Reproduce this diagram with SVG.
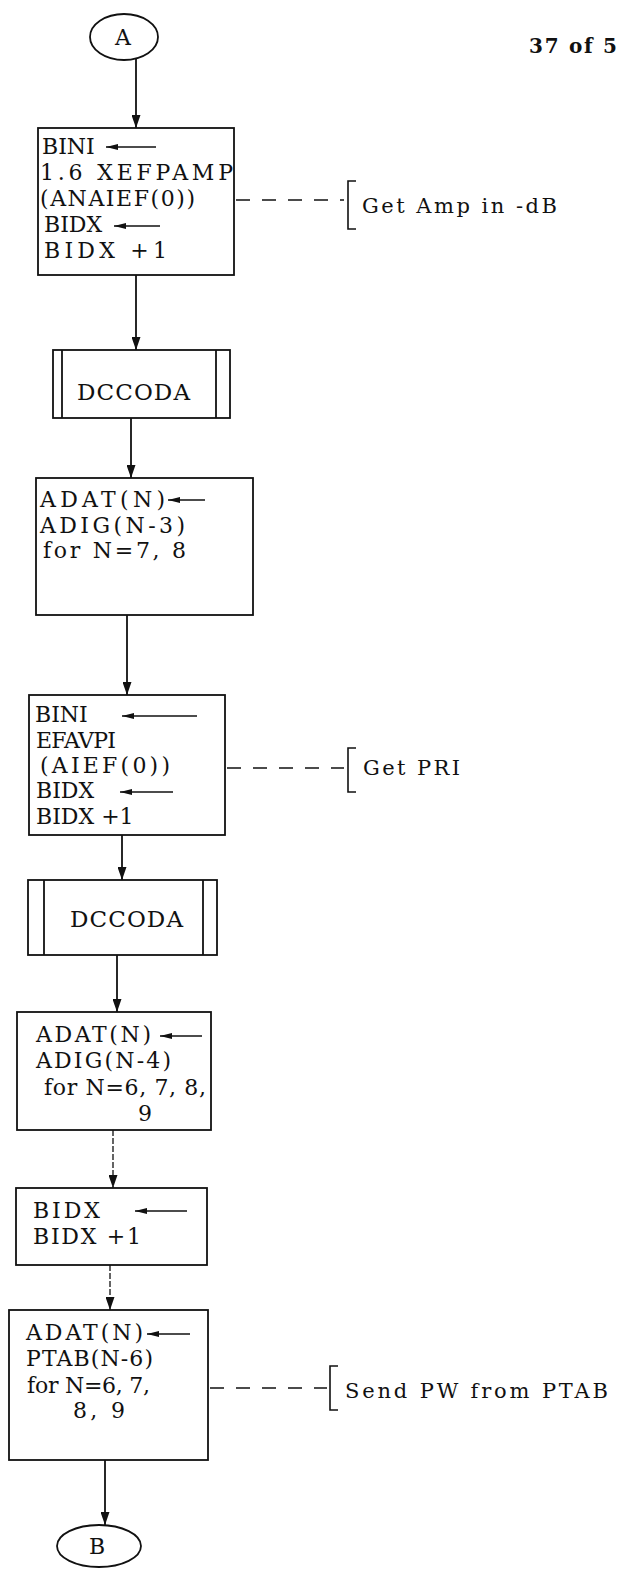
<svg xmlns="http://www.w3.org/2000/svg" width="621" height="1575" viewBox="0 0 621 1575">
<style>
.bg{fill:#fff}
.box{fill:#fff;stroke:#111;stroke-width:1.8}
.ln{stroke:#111;stroke-width:1.8;fill:none}
.thin{stroke:#111;stroke-width:1.3;fill:none;stroke-dasharray:6,2}
.dash{stroke:#111;stroke-width:1.6;fill:none;stroke-dasharray:14,12}
.br{stroke:#111;stroke-width:1.6;fill:none}
.ia{stroke:#111;stroke-width:1.6;fill:none}
.t{font-family:"DejaVu Serif","Liberation Serif",serif;font-size:22px;fill:#111}
.d{font-family:"DejaVu Serif","Liberation Serif",serif;font-size:23px;fill:#111}
.a{font-family:"DejaVu Serif","Liberation Serif",serif;font-size:21px;fill:#111}
.pg{font-family:"DejaVu Serif","Liberation Serif",serif;font-size:20px;font-weight:bold;fill:#111}
</style>
<defs>
<marker id="ah" viewBox="0 0 10 10" refX="10" refY="5" markerWidth="13" markerHeight="9" markerUnits="userSpaceOnUse" orient="auto" preserveAspectRatio="none"><path d="M0,0 L10,5 L0,10 z" fill="#111"/></marker>
<marker id="sh" viewBox="0 0 10 10" refX="10" refY="5" markerWidth="12" markerHeight="6" markerUnits="userSpaceOnUse" orient="auto" preserveAspectRatio="none"><path d="M0,0 L10,5 L0,10 z" fill="#111"/></marker>
</defs>
<rect class="bg" x="0" y="0" width="621" height="1575"/>
<text class="pg" x="529" y="53" textLength="88">37 of 5</text>

<g id="connectors">
<line class="ln" x1="136" y1="58" x2="136" y2="128" marker-end="url(#ah)"/>
<line class="ln" x1="136" y1="275" x2="136" y2="350" marker-end="url(#ah)"/>
<line class="ln" x1="131" y1="418" x2="131" y2="478" marker-end="url(#ah)"/>
<line class="ln" x1="127" y1="615" x2="127" y2="695" marker-end="url(#ah)"/>
<line class="ln" x1="122" y1="835" x2="122" y2="880" marker-end="url(#ah)"/>
<line class="ln" x1="117" y1="955" x2="117" y2="1012" marker-end="url(#ah)"/>
<line class="thin" x1="113" y1="1130" x2="113" y2="1188" marker-end="url(#ah)"/>
<line class="thin" x1="110" y1="1265" x2="110" y2="1310" marker-end="url(#ah)"/>
<line class="ln" x1="105" y1="1460" x2="105" y2="1525" marker-end="url(#ah)"/>
<line class="dash" x1="236" y1="200" x2="344" y2="200"/>
<line class="dash" x1="227" y1="768" x2="344" y2="768"/>
<line class="dash" x1="210" y1="1388" x2="327" y2="1388"/>
</g>

<g id="nodeA">
<ellipse class="box" cx="124" cy="37" rx="34" ry="23"/>
<text class="t" x="123" y="45" text-anchor="middle">A</text>
</g>

<g id="box1">
<rect class="box" x="38" y="128" width="196" height="147"/>
<text class="t" x="42" y="154">BINI</text>
<line class="ia" x1="156" y1="147" x2="106" y2="147" marker-end="url(#sh)"/>
<text class="t" x="40" y="180" textLength="193">1.6 XEFPAMP</text>
<text class="t" x="40" y="206" textLength="155">(ANAIEF(0))</text>
<text class="t" x="44" y="232">BIDX</text>
<line class="ia" x1="160" y1="226" x2="114" y2="226" marker-end="url(#sh)"/>
<text class="t" x="44" y="258" textLength="123">BIDX +1</text>
</g>

<g id="note1">
<path class="br" d="M356,181 L348,181 L348,229 L356,229"/>
<text class="a" x="362" y="213" textLength="195">Get Amp in -dB</text>
</g>

<g id="dccoda1">
<rect class="box" x="53" y="350" width="177" height="68"/>
<line class="ln" x1="62" y1="350" x2="62" y2="418"/>
<line class="ln" x1="216" y1="350" x2="216" y2="418"/>
<text class="d" x="77" y="400" textLength="113">DCCODA</text>
</g>

<g id="box3">
<rect class="box" x="36" y="478" width="217" height="137"/>
<text class="t" x="40" y="507" textLength="125">ADAT(N)</text>
<line class="ia" x1="205" y1="500" x2="168" y2="500" marker-end="url(#sh)"/>
<text class="t" x="40" y="533" textLength="145">ADIG(N-3)</text>
<text class="t" x="43" y="558" textLength="143">for N=7, 8</text>
</g>

<g id="box4">
<rect class="box" x="29" y="695" width="196" height="140"/>
<text class="t" x="35" y="722">BINI</text>
<line class="ia" x1="197" y1="716" x2="122" y2="716" marker-end="url(#sh)"/>
<text class="t" x="36" y="748" textLength="80">EFAVPI</text>
<text class="t" x="40" y="773" textLength="130">(AIEF(0))</text>
<text class="t" x="36" y="798">BIDX</text>
<line class="ia" x1="173" y1="792" x2="120" y2="792" marker-end="url(#sh)"/>
<text class="t" x="36" y="824">BIDX +1</text>
</g>

<g id="note2">
<path class="br" d="M356,748 L348,748 L348,792 L356,792"/>
<text class="a" x="363" y="775" textLength="97">Get PRI</text>
</g>

<g id="dccoda2">
<rect class="box" x="28" y="880" width="189" height="75"/>
<line class="ln" x1="44" y1="880" x2="44" y2="955"/>
<line class="ln" x1="203" y1="880" x2="203" y2="955"/>
<text class="d" x="70" y="927" textLength="113">DCCODA</text>
</g>

<g id="box6">
<rect class="box" x="17" y="1012" width="194" height="118"/>
<text class="t" x="36" y="1042" textLength="115">ADAT(N)</text>
<line class="ia" x1="202" y1="1036" x2="160" y2="1036" marker-end="url(#sh)"/>
<text class="t" x="36" y="1068" textLength="135">ADIG(N-4)</text>
<text class="t" x="44" y="1095" textLength="162">for N=6, 7, 8,</text>
<text class="t" x="138" y="1121">9</text>
</g>

<g id="box7">
<rect class="box" x="16" y="1188" width="191" height="77"/>
<text class="t" x="33" y="1218" textLength="67">BIDX</text>
<line class="ia" x1="187" y1="1211" x2="135" y2="1211" marker-end="url(#sh)"/>
<text class="t" x="33" y="1244" textLength="108">BIDX +1</text>
</g>

<g id="box8">
<rect class="box" x="9" y="1310" width="199" height="150"/>
<text class="t" x="26" y="1340" textLength="117">ADAT(N)</text>
<line class="ia" x1="190" y1="1334" x2="147" y2="1334" marker-end="url(#sh)"/>
<text class="t" x="26" y="1366" textLength="127">PTAB(N-6)</text>
<text class="t" x="27" y="1393" textLength="123">for N=6, 7,</text>
<text class="t" x="73" y="1418" textLength="52">8, 9</text>
</g>

<g id="note3">
<path class="br" d="M338,1366 L330,1366 L330,1410 L338,1410"/>
<text class="a" x="345" y="1398" textLength="263">Send PW from PTAB</text>
</g>

<g id="nodeB">
<ellipse class="box" cx="99" cy="1546" rx="42" ry="21"/>
<text class="t" x="97" y="1554" text-anchor="middle">B</text>
</g>
</svg>
